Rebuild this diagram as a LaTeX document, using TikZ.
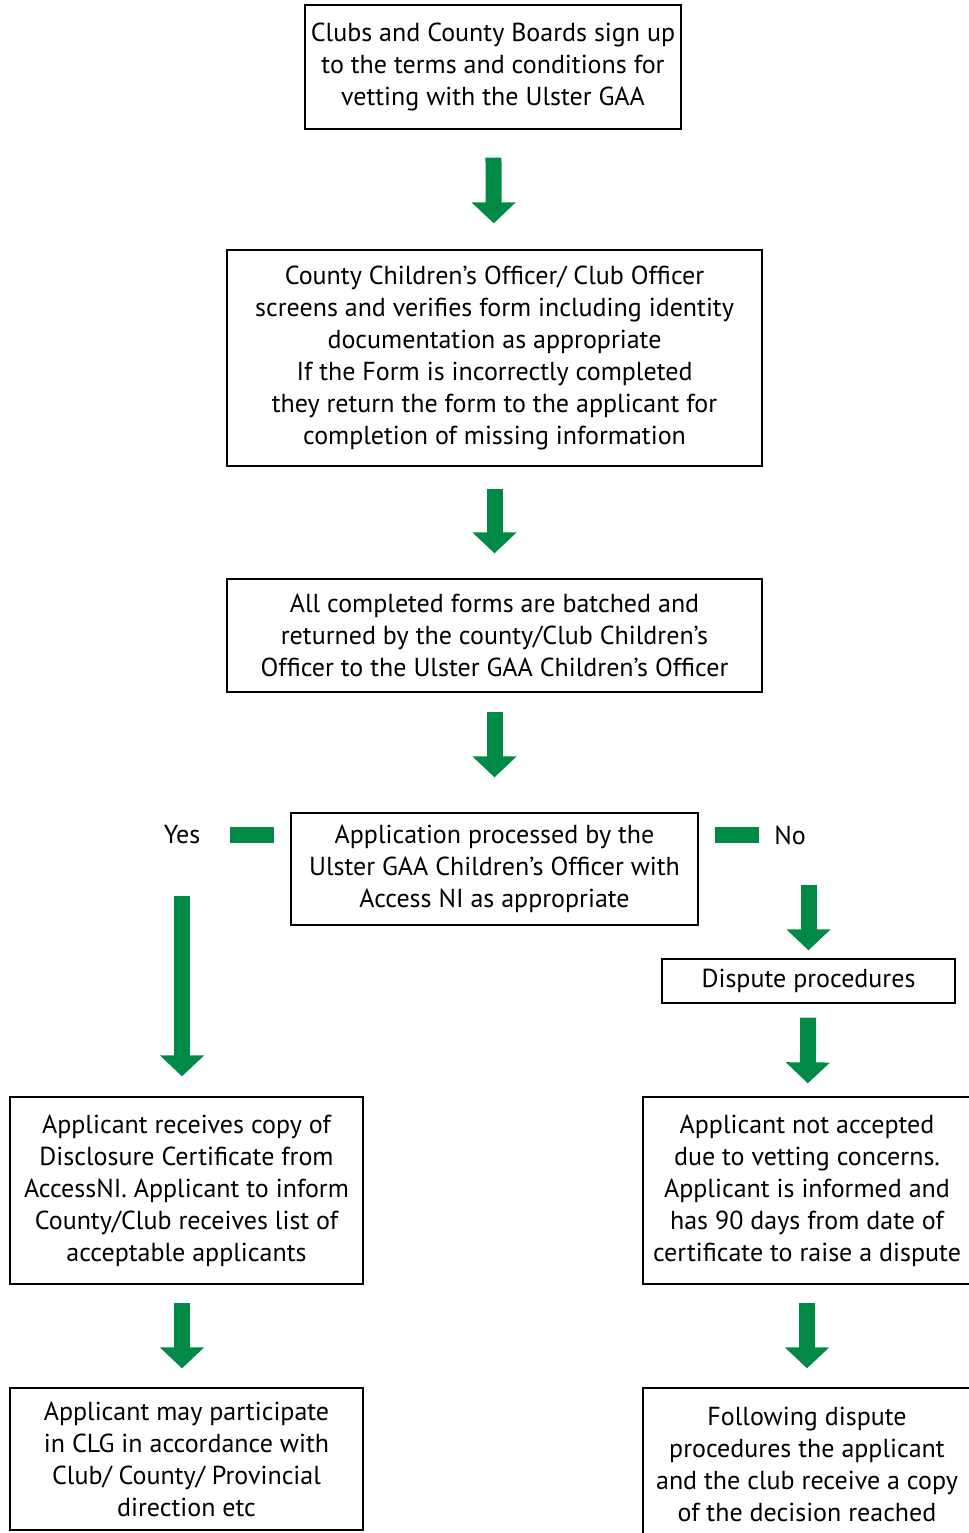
\documentclass[tikz,border=0pt]{standalone}
\usepackage{fontspec}
\setmainfont{PT Sans}
\usetikzlibrary{arrows.meta}
\definecolor{gaagreen}{RGB}{0,138,70}
\tikzset{
	caja/.style={draw, line width=0.75pt, align=center, inner sep=2pt},
	flecha/.style={gaagreen, line width=0.32cm, -{Triangle[width=0.86cm,length=0.42cm]}},
	barra/.style={gaagreen, line width=0.32cm}
}

\begin{document}
\begin{tikzpicture}[x=0.02cm, y=-0.02cm, font=\fontsize{14.8}{18.2}\selectfont]
		\useasboundingbox (0,0) rectangle (969,1533);
		\clip (0,0) rectangle (969,1533);
		%cajas del centro
		\node[caja, minimum width=7.52cm, minimum height=2.48cm] (firma) at (493,67) {Clubs and County Boards sign up\\to the terms and conditions for\\vetting with the Ulster GAA};
		\node[caja, minimum width=10.7cm, minimum height=4.32cm] (revisa) at (494.5,358) {County Children’s Officer/ Club Officer\\screens and verifies form including identity\\documentation as appropriate\\If the Form is incorrectly completed\\they return the form to the applicant for\\completion of missing information};
		\node[caja, minimum width=10.7cm, minimum height=2.26cm] (lote) at (494.5,635.5) {All completed forms are batched and\\returned by the county/Club Children’s\\Officer to the Ulster GAA Children’s Officer};
		\node[caja, minimum width=8.14cm, minimum height=2.24cm] (proceso) at (494.5,869) {Application processed by the\\Ulster GAA Children’s Officer with\\Access NI as appropriate};
		\node[inner sep=0] (si) at (182,835) {Yes};
		\node[inner sep=0] (no) at (790,835) {No};
		%rama del si
		\node[caja, minimum width=7.06cm, minimum height=3.74cm] (acepta) at (186.5,1190.5) {Applicant receives copy of\\Disclosure Certificate from\\AccessNI. Applicant to inform\\County/Club receives list of\\acceptable applicants};
		\node[caja, minimum width=7.06cm, minimum height=2.84cm] (participa) at (186.5,1459) {Applicant may participate\\in CLG in accordance with\\Club/ County/ Provincial\\direction etc};
		%rama del no
		\node[caja, minimum width=5.86cm, minimum height=0.88cm] (disputa) at (808.5,981) {Dispute procedures};
		\node[caja, minimum width=6.56cm, minimum height=3.74cm] (rechaza) at (807,1190.5) {Applicant not accepted\\due to vetting concerns.\\Applicant is informed and\\has 90 days from date of\\certificate to raise a dispute};
		\node[caja, minimum width=6.56cm, minimum height=3.04cm] (decision) at (807,1464) {Following dispute\\procedures the applicant\\and the club receive a copy\\of the decision reached};
		
		\draw[flecha, shorten <=0.56cm, shorten >=0.52cm] (firma) -- (revisa);
		\draw[flecha, shorten <=0.44cm, shorten >=0.5cm] (revisa) -- (lote);
		\draw[flecha, shorten <=0.38cm, shorten >=0.7cm] (lote) -- (proceso);
		\draw[barra, shorten <=0.58cm, shorten >=0.32cm] (si.east) -- (si.east -| proceso.west);
		\draw[barra, shorten <=0.32cm, shorten >=0.3cm] (no.west -| proceso.east) -- (no.west);
		\draw[flecha, shorten <=1.02cm, shorten >=0.4cm] (si.south) -- (si.south |- acepta.north);
		\draw[flecha, shorten <=0.36cm, shorten >=0.38cm] (acepta.south -| si) -- (participa.north -| si);
		\draw[flecha, shorten <=0.8cm, shorten >=0.16cm] (disputa.north |- no.south) -- (disputa.north);
		\draw[flecha, shorten <=0.28cm, shorten >=0.26cm] (disputa) -- (rechaza);
		\draw[flecha, shorten <=0.36cm, shorten >=0.38cm] (rechaza) -- (decision);
	\end{tikzpicture}
\end{document}
